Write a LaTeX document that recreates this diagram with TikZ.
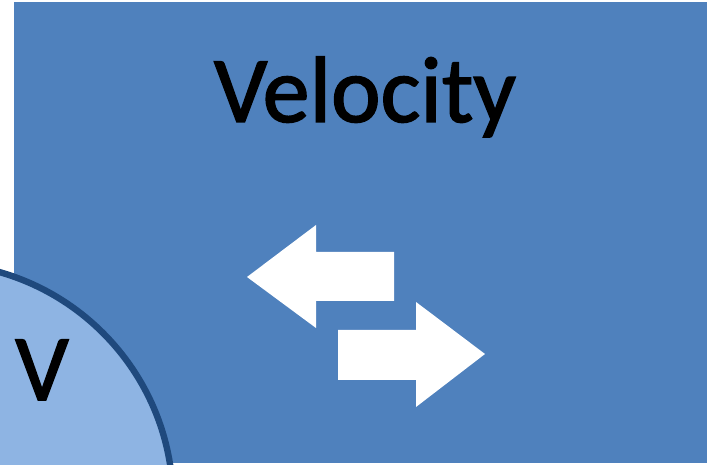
\documentclass[tikz,border=0pt]{standalone}
\usepackage{fontspec}
\setmainfont{Carlito}
\newfontfamily\heavyfont[FakeBold=1.6]{Carlito}
\usetikzlibrary{positioning}

\definecolor{panelblue}{HTML}{4F81BD}
\definecolor{circlefill}{HTML}{8EB4E3}
\definecolor{circleedge}{HTML}{1F497D}

\begin{document}
\begin{tikzpicture}[
  x=0.5pt, y=0.5pt,
  every node/.style={font=\heavyfont\fontsize{47}{57}\selectfont, text=black, inner sep=0pt},
  panel/.style={fill=panelblue, draw=none},
  vcircle/.style={fill=circlefill, draw=circleedge, line width=3.2pt},
  blockarrow/.style={fill=white, draw=none},
]
\useasboundingbox (0,0) rectangle (707,465);

% Blue panel
\fill[panel] (14,2) rectangle (707,463);

% Corner circle, cut by the page
\begin{scope}
  \clip (0,0) rectangle (707,465);
  \draw[vcircle] (-66,-37) circle (239);
\end{scope}

% Two block arrows
\fill[blockarrow] (247,188) -- (316,240) -- (316,213) -- (394,213)
  -- (394,164) -- (316,164) -- (316,137) -- cycle;
\fill[blockarrow] (485,111) -- (416,163) -- (416,135) -- (338,135)
  -- (338,85) -- (416,85) -- (416,58) -- cycle;

% Labels
\node[anchor=base] (title)  at (365,343) {Velocity};
\node[anchor=base] (vlabel) at (42,65)   {V};
\end{tikzpicture}
\end{document}
